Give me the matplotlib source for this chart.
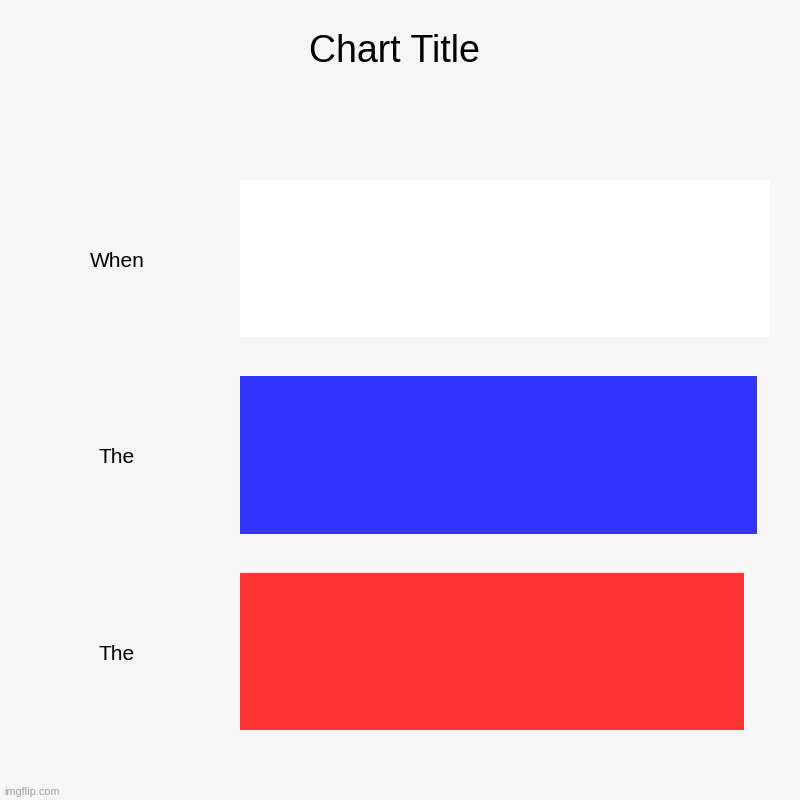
import matplotlib
matplotlib.use("Agg")
import matplotlib.pyplot as plt
from matplotlib.transforms import offset_copy

categories = ["When", "The", "The"]
values = [41, 40, 39]
colors = ["#ffffff", "#3333ff", "#ff3333"]
title = "Chart Title"

plt.rcParams['font.family'] = ['Liberation Sans', 'DejaVu Sans']
bg = "#f6f6f6"

fig = plt.figure(figsize=(8, 8), dpi=100, facecolor=bg)
ax = fig.add_axes([0.3, 0.063, 0.6625, 0.7365])
ax.set_facecolor(bg)

pos = list(range(len(categories)))
ax.barh(pos, values, height=0.8, color=colors, edgecolor="none")
ax.set_ylim(len(categories) - 0.5, -0.5)
ax.set_xlim(0, max(values))

for s in ax.spines.values():
    s.set_visible(False)
ax.set_xticks([])
ax.set_yticks([])

tr = offset_copy(ax.transData, fig=fig, x=0, y=-8.5 * 72 / 100, units="points")
for p, c in zip(pos, categories):
    ax.text(-123/530 * max(values), p, c, ha="center", va="baseline",
            fontsize=15, color="#000000", transform=tr)

fig.text(0.4925, 1 - 62/800, title, ha="center", va="baseline", fontsize=27, color="#000000")
fig.text(4/800, 1 - 795/800, "imgflip.com", ha="left", va="baseline", fontsize=7.8, color="#a0a0a0")

fig.savefig("out.png", dpi=100, facecolor=bg)
